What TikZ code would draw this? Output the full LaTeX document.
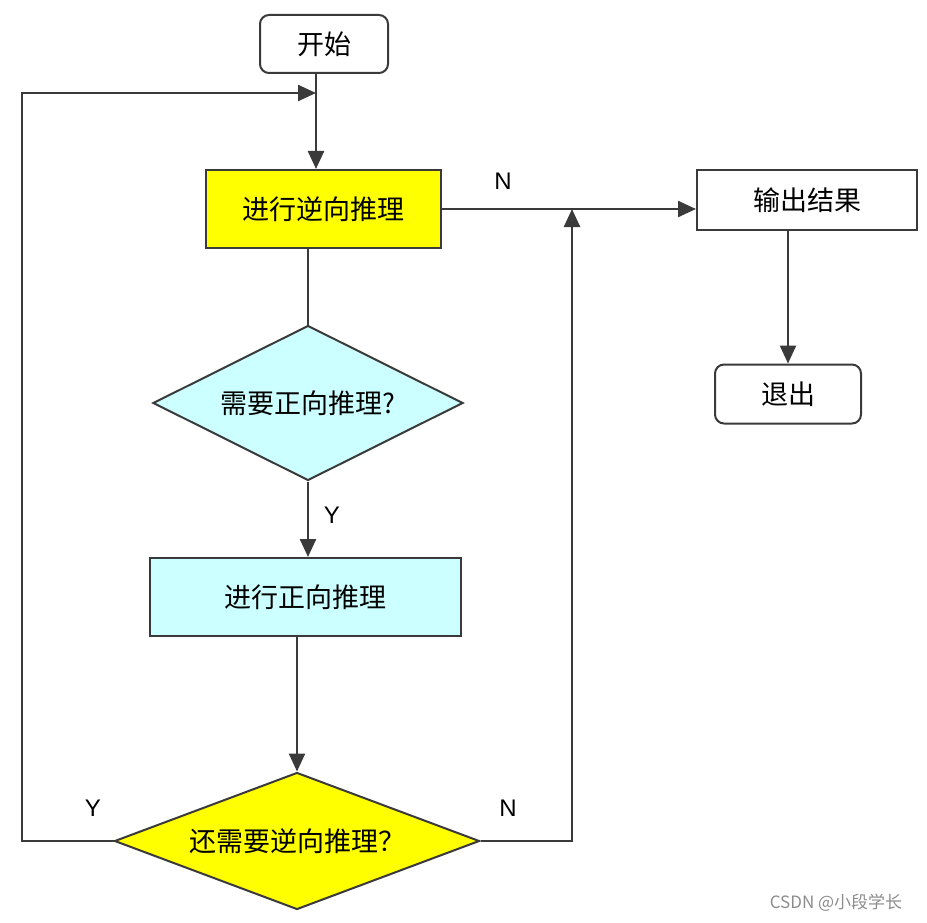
\documentclass[tikz,border=0pt]{standalone}
\usepackage{fontspec}
\setmainfont{Liberation Sans}
\newfontfamily\cjk{Noto Sans CJK SC}
\usetikzlibrary{arrows.meta,shapes.geometric,positioning}
\definecolor{boxyellow}{HTML}{FFFF00}
\definecolor{boxcyan}{HTML}{CCFFFF}
\definecolor{edgegray}{HTML}{3A3A3A}

\begin{document}
\begin{tikzpicture}
    [
      x=1pt,y=-1pt,
      every node/.style={font=\cjk\fontsize{27}{30}\selectfont},
      terminal/.style={draw=edgegray,line width=2pt,rounded corners=9pt,inner sep=0pt,fill=white},
      process/.style={draw=edgegray,line width=2pt,inner sep=0pt},
      decision/.style={diamond,draw=edgegray,line width=2pt,inner sep=0pt,aspect=2.2},
      flow/.style={draw=edgegray,line width=2.4pt},
      post/.style={flow,-{Triangle[length=18pt,width=16pt]}},
      answer/.style={font=\fontsize{24}{26}\selectfont},
    ]

    \useasboundingbox (0,0) rectangle (927,923);

    \node (start) [terminal,minimum width=128pt,minimum height=58pt] at (324,44) {开始};
    \node (backward) [process,fill=boxyellow,minimum width=235pt,minimum height=78pt] at (323,209) {进行逆向推理};
    \node (ask1) [decision,fill=boxcyan,minimum width=310pt,minimum height=155pt] at (308,403) {需要正向推理?};
    \node (forward) [process,fill=boxcyan,minimum width=311pt,minimum height=78pt] at (305,597) {进行正向推理};
    \node (ask2) [decision,fill=boxyellow,minimum width=365pt,minimum height=137pt] at (297,841) {还需要逆向推理？};
    \node (output) [process,fill=white,minimum width=220pt,minimum height=60pt] at (807,200) {输出结果};
    \node (exit) [terminal,minimum width=146pt,minimum height=59pt] at (788,394) {退出};

    \coordinate (top) at (316,93);
    \coordinate (corner) at (22,93);
    \coordinate (merge) at (572,209);

    \draw [flow] (start.south -| top) -- (top);
    \draw [post] (top) -- (top |- backward.north);
    \draw [post] (backward) -- (backward -| output.west);
    \draw [flow] (ask1.north |- backward.south) -- (ask1.north);
    \draw [post] (ask1.south) -- (ask1.south |- forward.north);
    \draw [post] (ask2.north |- forward.south) -- (ask2.north);
    \draw [post] (ask2.west) -| (corner) -- (top);
    \draw [post] (ask2.east) -| (merge);
    \draw [post] (exit.north |- output.south) -- (exit.north);

    \node [answer] at (503,181) {N};
    \node [answer] at (332,515) {Y};
    \node [answer] at (93,808) {Y};
    \node [answer] at (508,808) {N};

    \node (mark) [font=\cjk\fontsize{17}{19}\selectfont,text=black!45] at (836,903) {CSDN @小段学长};

  \end{tikzpicture}
\end{document}
